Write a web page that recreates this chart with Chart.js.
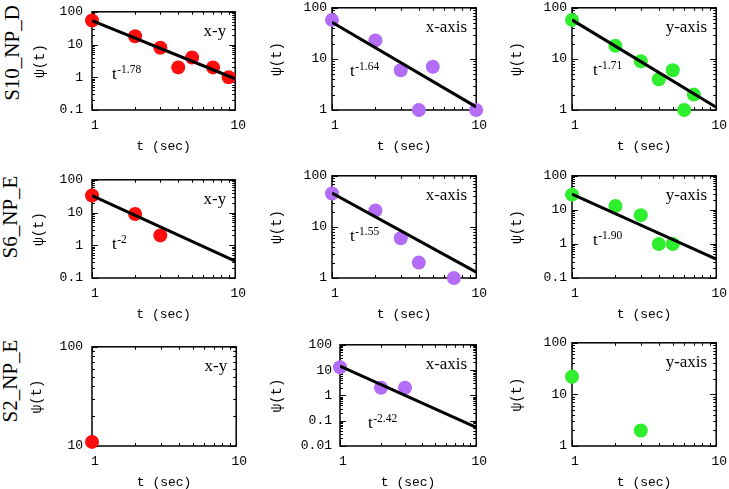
<!DOCTYPE html>
<html>
<head>
<meta charset="utf-8">
<script src="https://cdn.jsdelivr.net/npm/chart.js@4.4.1/dist/chart.umd.min.js"></script>
<style>
  html, body { margin: 0; padding: 0; background: #fff; }
  body { position: relative; width: 729px; height: 489px; overflow: hidden; }
  .panel { position: absolute; }
  .row-label {
    position: absolute;
    font-family: 'Liberation Serif', 'DejaVu Serif', serif;
    font-size: 21px;
    color: #000;
    white-space: nowrap;
    transform: translate(-50%, -50%) rotate(-90deg);
  }
</style>
</head>
<body>
<script>
// row and column names
const rowLabels = ['S10_NP_D', 'S6_NP_E', 'S2_NP_E']
const directions = ['x-y', 'x-axis', 'y-axis']
const dirColors = ['#ff0c0c', '#b36cf6', '#2eee2e']

// fit lines are read at t = 1 and t = 10
const fitT = [1, 10]

// S10_NP_D
const s10XyT = [1, 2, 3, 4, 5, 7, 9]
const s10XyPsi = [54, 18, 8, 2, 4, 2, 1]
const s10XyFit = [54, 0.9]
const s10XaxisT = [1, 2, 3, 4, 5, 10]
const s10XaxisPsi = [58, 23, 6, 1, 7, 1]
const s10XaxisFit = [52, 1.15]
const s10YaxisT = [1, 2, 3, 4, 5, 6, 7]
const s10YaxisPsi = [58, 18, 9, 4, 6, 1, 2]
const s10YaxisFit = [58, 1.13]

// S6_NP_E
const s6XyT = [1, 2, 3]
const s6XyPsi = [33, 9, 2]
const s6XyFit = [33, 0.33]
const s6XaxisT = [1, 2, 3, 4, 7]
const s6XaxisPsi = [45, 21, 6, 2, 1]
const s6XaxisFit = [46, 1.3]
const s6YaxisT = [1, 2, 3, 4, 5]
const s6YaxisPsi = [28, 13, 7, 1, 1]
const s6YaxisFit = [29, 0.36]

// S2_NP_E
const s2XyT = [1]
const s2XyPsi = [11]
const s2XaxisT = [1, 2, 3]
const s2XaxisPsi = [13, 2, 2]
const s2XaxisFit = [14.5, 0.055]
const s2YaxisT = [1, 3]
const s2YaxisPsi = [22, 2]

// exponent labels (t^exp) and y ranges, panel by panel
const exponents = ['-1.78', '-1.64', '-1.71', '-2', '-1.55', '-1.90', null, '-2.42', null]
const yMins = [0.1, 1, 1, 0.1, 1, 0.1, 10, 0.01, 1]
const yMax = 100
const xMin = 1
const xMax = 10

const panels = [
  { t: s10XyT, psi: s10XyPsi, fit: s10XyFit },
  { t: s10XaxisT, psi: s10XaxisPsi, fit: s10XaxisFit },
  { t: s10YaxisT, psi: s10YaxisPsi, fit: s10YaxisFit },
  { t: s6XyT, psi: s6XyPsi, fit: s6XyFit },
  { t: s6XaxisT, psi: s6XaxisPsi, fit: s6XaxisFit },
  { t: s6YaxisT, psi: s6YaxisPsi, fit: s6YaxisFit },
  { t: s2XyT, psi: s2XyPsi, fit: null },
  { t: s2XaxisT, psi: s2XaxisPsi, fit: s2XaxisFit },
  { t: s2YaxisT, psi: s2YaxisPsi, fit: null }
]

// page layout: plot frame of each panel, y axis width, label padding
const boxes = [
  { left: 92, top: 5, right: 237, bottom: 110, ly: 64, tickPad: 9, exp: [20, 67] },
  { left: 332, top: 5, right: 478, bottom: 110, ly: 67, tickPad: 5, exp: [18, 68] },
  { left: 572, top: 5, right: 718, bottom: 110, ly: 67, tickPad: 5, exp: [21, 67] },
  { left: 92, top: 173, right: 237, bottom: 278, ly: 65, tickPad: 9, exp: [20, 69] },
  { left: 332, top: 173, right: 478, bottom: 278, ly: 67, tickPad: 5, exp: [18, 65] },
  { left: 572, top: 173, right: 718, bottom: 278, ly: 67, tickPad: 5, exp: [21, 69] },
  { left: 92, top: 340, right: 238, bottom: 446, ly: 67, tickPad: 9, exp: null },
  { left: 340, top: 339, right: 478, bottom: 446, ly: 75, tickPad: 8, exp: [28, 83] },
  { left: 572, top: 340, right: 718, bottom: 446, ly: 67, tickPad: 5, exp: null }
]
const rowLabelPos = [[12, 53], [10, 217], [10, 381]]

const monoFont = "'Liberation Mono', 'DejaVu Sans Mono', monospace"
const serifFont = "'Liberation Serif', 'DejaVu Serif', serif"

function isDecade(v) {
  const e = Math.log10(v)
  return Math.abs(e - Math.round(e)) < 1e-6
}

function decadeLabel(v) {
  if (!isDecade(v)) return ''
  const e = Math.round(Math.log10(v))
  return e >= 0 ? String(Math.round(v)) : Number(v).toFixed(-e)
}

function logMarks(min, max) {
  const marks = []
  for (let e = Math.floor(Math.log10(min)); e < Math.ceil(Math.log10(max)); e++) {
    for (let m = 1; m <= 9; m++) {
      const v = m * Math.pow(10, e)
      if (v >= min * 0.999 && v <= max * 1.001) marks.push(v)
    }
  }
  marks.push(max)
  return marks
}

// frame with inward ticks on all four sides, plus panel texts
const panelDecor = {
  id: 'panelDecor',
  beforeDatasetsDraw(chart) {
    const { ctx, chartArea: a, scales: { x, y } } = chart
    ctx.save()
    ctx.strokeStyle = '#000'
    ctx.lineWidth = 1
    ctx.beginPath()
    for (const v of logMarks(x.min, x.max)) {
      const px = Math.round(x.getPixelForValue(v)) + 0.5
      const len = isDecade(v) ? 6 : 3
      ctx.moveTo(px, a.bottom); ctx.lineTo(px, a.bottom - len)
      ctx.moveTo(px, a.top); ctx.lineTo(px, a.top + len)
    }
    for (const v of logMarks(y.min, y.max)) {
      const py = Math.round(y.getPixelForValue(v)) + 0.5
      const len = isDecade(v) ? 6 : 3
      ctx.moveTo(a.left, py); ctx.lineTo(a.left + len, py)
      ctx.moveTo(a.right, py); ctx.lineTo(a.right - len, py)
    }
    ctx.stroke()
    ctx.lineWidth = 1.5
    ctx.strokeRect(a.left, a.top, a.right - a.left, a.bottom - a.top)
    ctx.restore()
  },
  afterDatasetsDraw(chart, args, opts) {
    const { ctx, chartArea: a } = chart
    ctx.save()
    ctx.fillStyle = '#000'
    ctx.font = '17px ' + serifFont
    ctx.textAlign = 'right'
    ctx.textBaseline = 'middle'
    ctx.fillText(opts.direction, a.right - 9, a.top + 20)
    if (opts.exponent) {
      const x0 = a.left + opts.expAt[0]
      const base = a.top + opts.expAt[1]
      ctx.textAlign = 'left'
      ctx.textBaseline = 'alphabetic'
      ctx.fillText('t', x0, base)
      const w = ctx.measureText('t').width
      ctx.font = '11.5px ' + serifFont
      ctx.fillText(opts.exponent, x0 + w + 0.5, base - 6)
    }
    ctx.restore()
  }
}

rowLabels.forEach((label, r) => {
  const div = document.createElement('div')
  div.className = 'row-label'
  div.textContent = label
  div.style.left = rowLabelPos[r][0] + 'px'
  div.style.top = rowLabelPos[r][1] + 'px'
  document.body.appendChild(div)
})

panels.forEach((p, i) => {
  const b = boxes[i]
  const padTop = 10
  const padRight = 14
  const bx = 46
  const w = b.ly + (b.right - b.left) + padRight
  const h = padTop + (b.bottom - b.top) + bx

  const wrap = document.createElement('div')
  wrap.className = 'panel'
  wrap.style.left = (b.left - b.ly) + 'px'
  wrap.style.top = (b.top - padTop) + 'px'
  wrap.style.width = w + 'px'
  wrap.style.height = h + 'px'
  const canvas = document.createElement('canvas')
  canvas.width = w
  canvas.height = h
  wrap.appendChild(canvas)
  document.body.appendChild(wrap)

  const color = dirColors[i % 3]
  const datasets = []
  if (p.fit) {
    datasets.push({
      data: fitT.map((t, k) => ({ x: t, y: p.fit[k] })),
      showLine: true,
      borderColor: '#000',
      borderWidth: 3,
      pointRadius: 0,
      tension: 0
    })
  }
  datasets.push({
    data: p.t.map((t, k) => ({ x: t, y: p.psi[k] })),
    backgroundColor: color,
    borderWidth: 0,
    pointRadius: 7,
    clip: false
  })

  new Chart(canvas, {
    type: 'scatter',
    data: { datasets: datasets },
    options: {
      responsive: false,
      animation: false,
      layout: { padding: { top: padTop, right: padRight, left: 0, bottom: 0 } },
      plugins: {
        legend: { display: false },
        tooltip: { enabled: false },
        panelDecor: {
          direction: directions[i % 3],
          exponent: exponents[i],
          expAt: b.exp
        }
      },
      scales: {
        x: {
          type: 'logarithmic',
          min: xMin,
          max: xMax,
          grid: { display: false, drawTicks: false },
          border: { display: false },
          ticks: {
            autoSkip: false,
            maxRotation: 0,
            padding: 8,
            labelOffset: 3,
            color: '#000',
            font: { family: monoFont, size: 13 },
            callback: decadeLabel
          },
          title: {
            display: true,
            text: 't (sec)',
            color: '#000',
            font: { family: monoFont, size: 13 },
            padding: { top: 0, bottom: 2 }
          },
          afterFit: s => { s.height = bx }
        },
        y: {
          type: 'logarithmic',
          min: yMins[i],
          max: yMax,
          grid: { display: false, drawTicks: false },
          border: { display: false },
          ticks: {
            autoSkip: false,
            padding: b.tickPad,
            color: '#000',
            font: { family: monoFont, size: 13 },
            callback: decadeLabel
          },
          title: {
            display: true,
            text: 'ψ(t)',
            color: '#000',
            font: { family: monoFont, size: 14 },
            padding: { top: 4, bottom: 0 }
          },
          afterFit: s => { s.width = b.ly }
        }
      }
    },
    plugins: [panelDecor]
  })
})
</script>
</body>
</html>
